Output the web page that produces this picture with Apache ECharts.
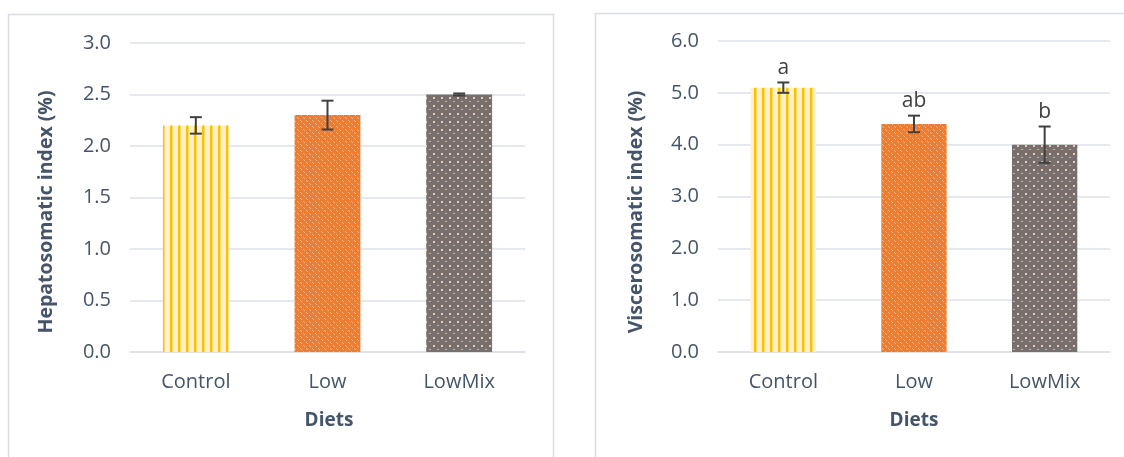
<!DOCTYPE html>
<html><head><meta charset="utf-8">
<script src="https://cdn.jsdelivr.net/npm/echarts@6/dist/echarts.min.js"></script>
<style>html,body{margin:0;padding:0;background:#fff}#c{width:1124px;height:457px}</style>
</head><body><div id="c"></div>
<script>
const categories = ['Control', 'Low', 'LowMix'];
const hsiValues = [2.2, 2.3, 2.5];
const hsiErrors = [0.08, 0.14, 0.01];
const vsiValues = [5.1, 4.4, 4.0];
const vsiErrors = [0.1, 0.16, 0.35];
const vsiLetters = ['a', 'ab', 'b'];
const hsiTicks = [0, 3, 0.5];
const vsiTicks = [0, 6, 1];

function mk(w, h, draw) {
  const c = document.createElement('canvas'); c.width = w; c.height = h;
  const g = c.getContext('2d'); draw(g); return {image: c, repeat: 'repeat'};
}
const patControl = mk(8, 8, g => { g.fillStyle = '#FFF2CC'; g.fillRect(0,0,8,8); g.fillStyle = '#FFC000'; g.fillRect(2,0,2.5,8); });
const patLow = mk(6, 6, g => { g.fillStyle = '#ED7D31'; g.fillRect(0,0,6,6); g.fillStyle = '#F6B48A';
  for (let i = 0; i < 6; i += 1) { if (i % 3 !== 2) g.fillRect(i, i, 1, 1); } });
const patMix = mk(8, 8, g => { g.fillStyle = '#767171'; g.fillRect(0,0,8,8); g.fillStyle = '#F4C3A3';
  g.fillRect(1,1,2,2); g.fillStyle = '#E8A887'; g.fillRect(5,5,2,1); });
const pats = [patControl, patLow, patMix];

const textColor = '#44546A';
const gridColor = '#DDE1E8';
const font = '"Open Sans", "Noto Sans", sans-serif';

function barData(vals) { return vals.map((v, i) => ({value: v, itemStyle: {color: pats[i]}})); }
function errData(vals, errs) { return vals.map((v, i) => [i, v, errs[i]]); }
function errRender(params, api) {
  const i = api.value(0), v = api.value(1), e = api.value(2);
  const letter = params.seriesIndex === 3 ? vsiLetters[params.dataIndex] : '';
  const hi = api.coord([i, v + e]), lo = api.coord([i, v - e]);
  const x = hi[0], cw = 6;
  const st = {stroke: '#404040', lineWidth: 2};
  const ch = [
    {type: 'line', shape: {x1: x, y1: hi[1], x2: x, y2: lo[1]}, style: st},
    {type: 'line', shape: {x1: x - cw, y1: hi[1], x2: x + cw, y2: hi[1]}, style: st},
    {type: 'line', shape: {x1: x - cw, y1: lo[1], x2: x + cw, y2: lo[1]}, style: st}
  ];
  if (letter) ch.push({type: 'text', style: {text: letter, x: x, y: hi[1] - 4, align: 'center', verticalAlign: 'bottom',
    font: '21px ' + font, fill: '#404040'}});
  return {type: 'group', children: ch};
}

function yAxis(gi, t) {
  return {type: 'value', gridIndex: gi, min: t[0], max: t[1], interval: t[2],
    axisLabel: {color: textColor, fontSize: 20, fontFamily: font, margin: 19, formatter: v => v.toFixed(1)},
    axisLine: {show: false}, axisTick: {show: false},
    splitLine: {lineStyle: {color: gridColor, width: 1.5}}};
}
function xAxis(gi) {
  return {type: 'category', gridIndex: gi, data: categories,
    axisLabel: {color: textColor, fontSize: 20, fontFamily: font, margin: 20},
    axisLine: {lineStyle: {color: gridColor, width: 1.5}}, axisTick: {show: false}};
}

const chart = echarts.init(document.getElementById('c'), null, {renderer: 'canvas'});
chart.setOption({
  animation: false,
  grid: [
    {left: 130, right: 599, top: 43, bottom: 105},
    {left: 718, right: 14, top: 41, bottom: 105}
  ],
  xAxis: [xAxis(0), xAxis(1)],
  yAxis: [yAxis(0, hsiTicks), yAxis(1, vsiTicks)],
  series: [
    {type: 'bar', xAxisIndex: 0, yAxisIndex: 0, barWidth: '50%', data: barData(hsiValues)},
    {type: 'custom', xAxisIndex: 0, yAxisIndex: 0, renderItem: errRender, data: errData(hsiValues, hsiErrors), z: 5},
    {type: 'bar', xAxisIndex: 1, yAxisIndex: 1, barWidth: '50%', data: barData(vsiValues)},
    {type: 'custom', xAxisIndex: 1, yAxisIndex: 1, renderItem: errRender, data: errData(vsiValues, vsiErrors), z: 5}
  ],
  graphic: [
    {type: 'rect', shape: {x: 8.5, y: 14.5, width: 545, height: 470}, style: {fill: 'none', stroke: '#D9DDE3', lineWidth: 1.5}, silent: true},
    {type: 'rect', shape: {x: 595.5, y: 13.5, width: 560, height: 470}, style: {fill: 'none', stroke: '#D9DDE3', lineWidth: 1.5}, silent: true},
    {type: 'text', x: 46, y: 212, rotation: Math.PI / 2, style: {text: 'Hepatosomatic index (%)', align: 'center', verticalAlign: 'middle', font: 'bold 19.5px ' + font, fill: textColor}},
    {type: 'text', x: 636, y: 212, rotation: Math.PI / 2, style: {text: 'Viscerosomatic index (%)', align: 'center', verticalAlign: 'middle', font: 'bold 19.5px ' + font, fill: textColor}},
    {type: 'text', x: 329, y: 421, style: {text: 'Diets', align: 'center', verticalAlign: 'middle', font: 'bold 19px ' + font, fill: textColor}},
    {type: 'text', x: 914, y: 421, style: {text: 'Diets', align: 'center', verticalAlign: 'middle', font: 'bold 19px ' + font, fill: textColor}}
  ]
});
</script></body></html>
